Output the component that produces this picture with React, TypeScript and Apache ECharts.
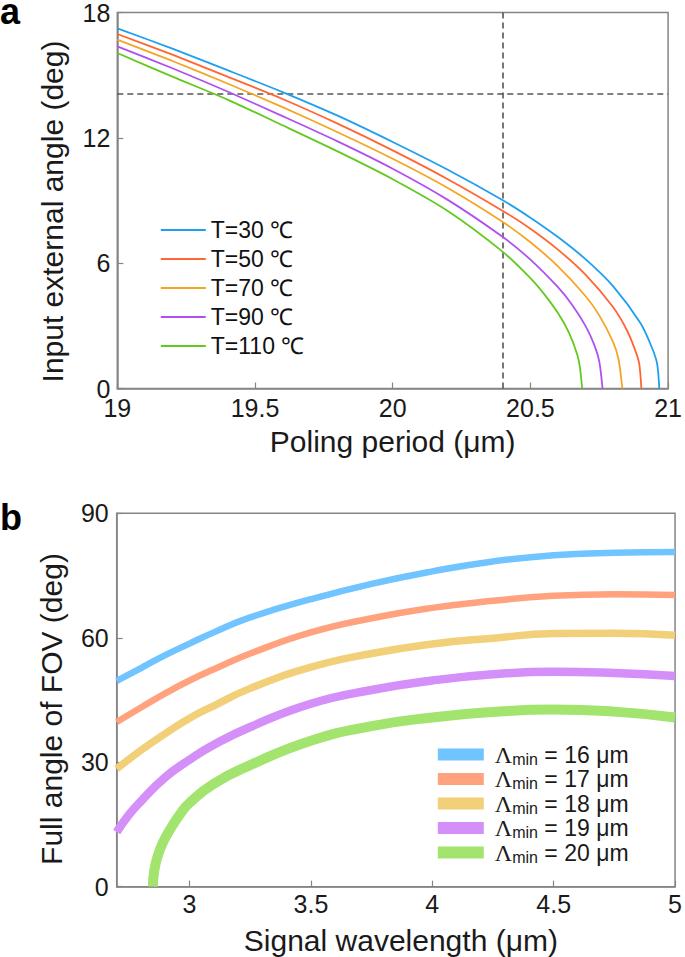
import React, { useEffect, useRef } from 'react';
import * as echarts from 'echarts';

const FONT = '"Liberation Sans", Arial, Helvetica, sans-serif';

// ---------- Panel a: input external angle vs poling period ----------
const T_NAMES = ['T=30 ℃', 'T=50 ℃', 'T=70 ℃', 'T=90 ℃', 'T=110 ℃'];
const T_COLORS = ['#1E9FF0', '#FF6633', '#F5A524', '#B050F2', '#63C91E'];

const PERIOD_30 = [19.0, 19.2, 19.4, 19.6, 19.8, 20.0, 20.2, 20.4, 20.5, 20.6, 20.7, 20.8, 20.9, 20.94, 20.96, 20.968];
const ANGLE_30 = [17.24, 16.27, 15.24, 14.19, 13.06, 11.8, 10.47, 9.01, 8.18, 7.25, 6.19, 4.9, 3.12, 2.0, 1.2, 0];

const PERIOD_50 = [19.0, 19.2, 19.4, 19.6, 19.8, 20.0, 20.2, 20.4, 20.5, 20.6, 20.7, 20.8, 20.85, 20.88, 20.895, 20.903];
const ANGLE_50 = [16.97, 15.98, 14.93, 13.86, 12.68, 11.4, 10.02, 8.5, 7.65, 6.65, 5.45, 3.9, 2.8, 1.85, 1.2, 0];

const PERIOD_70 = [19.0, 19.2, 19.4, 19.6, 19.8, 20.0, 20.2, 20.4, 20.5, 20.6, 20.7, 20.75, 20.8, 20.82, 20.834];
const ANGLE_70 = [16.7, 15.68, 14.6, 13.47, 12.27, 11.0, 9.6, 7.97, 7.0, 5.85, 4.43, 3.5, 2.23, 1.4, 0];

const PERIOD_90 = [19.0, 19.2, 19.4, 19.6, 19.8, 20.0, 20.2, 20.4, 20.5, 20.6, 20.65, 20.7, 20.73, 20.75, 20.762];
const ANGLE_90 = [16.38, 15.33, 14.22, 13.04, 11.83, 10.52, 9.03, 7.25, 6.17, 4.85, 4.03, 3.0, 2.15, 1.3, 0];

const PERIOD_110 = [19.0, 19.2, 19.4, 19.6, 19.8, 20.0, 20.2, 20.4, 20.5, 20.55, 20.6, 20.64, 20.67, 20.68, 20.688];
const ANGLE_110 = [16.06, 14.93, 13.83, 12.6, 11.35, 10.02, 8.5, 6.54, 5.28, 4.52, 3.61, 2.67, 1.63, 1.0, 0];

const PERIODS = [PERIOD_30, PERIOD_50, PERIOD_70, PERIOD_90, PERIOD_110];
const ANGLES = [ANGLE_30, ANGLE_50, ANGLE_70, ANGLE_90, ANGLE_110];

const REF_ANGLE = 14.1;
const REF_PERIOD = 20.4;

const A_X_TICKS = [19, 19.5, 20, 20.5, 21];
const A_Y_TICKS = [0, 6, 12, 18];

// ---------- Panel b: full angle of FOV vs signal wavelength ----------
const L_NAMES = ['Λmin = 16 μm', 'Λmin = 17 μm', 'Λmin = 18 μm', 'Λmin = 19 μm', 'Λmin = 20 μm'];
const L_COLORS = ['#70C4FF', '#FFA27D', '#F2D07A', '#D48FF9', '#A3E46F'];
const L_WIDTHS = [6.5, 6.5, 7.5, 8.5, 10];

const WL_16 = [2.7, 2.8, 2.9, 3.0, 3.1, 3.25, 3.5, 3.75, 4.0, 4.25, 4.5, 4.75, 5.0];
const FOV_16 = [49.6, 52.7, 55.8, 58.6, 61.3, 64.9, 69.3, 73.0, 76.0, 78.4, 79.9, 80.5, 80.7];

const WL_17 = [2.7, 2.8, 2.9, 3.0, 3.1, 3.25, 3.5, 3.75, 4.0, 4.25, 4.5, 4.75, 5.0];
const FOV_17 = [39.7, 43.2, 46.6, 49.7, 52.4, 56.2, 61.3, 64.7, 67.2, 68.9, 70.1, 70.5, 70.3];

const WL_18 = [2.7, 2.8, 2.9, 3.0, 3.1, 3.25, 3.5, 3.75, 4.0, 4.25, 4.5, 4.75, 5.0];
const FOV_18 = [28.4, 32.9, 36.9, 40.6, 43.6, 47.8, 52.9, 56.2, 58.5, 59.9, 61.0, 61.1, 60.6];

const WL_19 = [2.7, 2.75, 2.8, 2.9, 3.0, 3.1, 3.25, 3.5, 3.75, 4.0, 4.25, 4.5, 4.75, 5.0];
const FOV_19 = [13.2, 17.3, 20.6, 26.4, 30.6, 34.2, 38.5, 44.1, 47.4, 49.7, 51.2, 51.8, 51.5, 50.8];

const WL_20 = [2.849, 2.855, 2.87, 2.89, 2.92, 2.96, 3.0, 3.1, 3.25, 3.5, 3.75, 4.0, 4.25, 4.5, 4.75, 5.0];
const FOV_20 = [0, 4.0, 7.6, 10.6, 13.8, 17.4, 20.2, 24.8, 29.3, 35.2, 38.7, 40.8, 42.1, 42.7, 42.2, 40.8];

const WLS = [WL_16, WL_17, WL_18, WL_19, WL_20];
const FOVS = [FOV_16, FOV_17, FOV_18, FOV_19, FOV_20];

const B_X_TICKS = [3, 3.5, 4, 4.5, 5];

const zip = (xs: number[], ys: number[]) => xs.map((x, i) => [x, ys[i]]);

const AXIS_COLOR = '#858585';
const LABEL_COLOR = '#1a1a1a';

function axisBase(extra: any) {
  return {
    axisLine: { show: true, onZero: false, lineStyle: { color: AXIS_COLOR, width: 1.5 } },
    axisTick: { show: true, inside: true, length: 6, lineStyle: { color: AXIS_COLOR, width: 1.2 } },
    splitLine: { show: false },
    nameLocation: 'middle',
    ...extra,
    nameTextStyle: { fontFamily: FONT, fontSize: 30, color: LABEL_COLOR, ...(extra.nameTextStyle || {}) },
    axisLabel: { fontFamily: FONT, fontSize: 25, lineHeight: 18, color: LABEL_COLOR, ...(extra.axisLabel || {}) },
  };
}

function buildOption(): any {
  const seriesA = PERIODS.map((p, i) => ({
    name: T_NAMES[i],
    type: 'line',
    xAxisIndex: 0,
    yAxisIndex: 0,
    data: zip(p, ANGLES[i]),
    showSymbol: false,
    symbol: 'none',
    smooth: 0.25,
    color: T_COLORS[i],
    lineStyle: { width: 1.8, color: T_COLORS[i] },
    z: 3,
    ...(i === 0
      ? {
          markLine: {
            silent: true,
            symbol: ['none', 'none'],
            label: { show: false },
            lineStyle: { type: [6, 4], color: '#555', width: 1.6 },
            data: [{ yAxis: REF_ANGLE }, { xAxis: REF_PERIOD }],
            z: 2,
          },
        }
      : {}),
  }));

  const seriesB = WLS.map((w, i) => ({
    name: L_NAMES[i],
    type: 'line',
    xAxisIndex: 1,
    yAxisIndex: 1,
    data: zip(w, FOVS[i]),
    showSymbol: false,
    symbol: 'none',
    smooth: 0.5,
    color: L_COLORS[i],
    lineStyle: { width: L_WIDTHS[i], color: L_COLORS[i], cap: 'butt' },
    z: 3,
  }));

  return {
    animation: false,
    backgroundColor: '#ffffff',
    textStyle: { fontFamily: FONT },
    grid: [
      { left: 117.3, top: 11.7, width: 559.2, height: 376.8, show: true, borderColor: AXIS_COLOR, borderWidth: 1.5, backgroundColor: 'transparent' },
      { left: 116.7, top: 513.3, width: 560, height: 373.4, show: true, borderColor: AXIS_COLOR, borderWidth: 1.5, backgroundColor: 'transparent' },
    ],
    xAxis: [
      axisBase({
        gridIndex: 0,
        type: 'value',
        min: A_X_TICKS[0],
        max: A_X_TICKS[A_X_TICKS.length - 1],
        interval: 0.5,
        name: 'Poling period (μm)',
        nameGap: 38,
        axisLabel: { margin: 10, showMaxLabel: true, showMinLabel: true, hideOverlap: false },
      }),
      axisBase({
        gridIndex: 1,
        type: 'value',
        min: 2.7,
        max: 5,
        name: 'Signal wavelength (μm)',
        nameGap: 39,
        nameTextStyle: { padding: [0, 0, 0, 10] },
        axisTick: { show: true, inside: true, length: 6, lineStyle: { color: AXIS_COLOR, width: 1.2 }, customValues: B_X_TICKS },
        axisLabel: { margin: 8, customValues: B_X_TICKS, showMaxLabel: true },
      }),
    ],
    yAxis: [
      axisBase({
        gridIndex: 0,
        type: 'value',
        min: A_Y_TICKS[0],
        max: A_Y_TICKS[A_Y_TICKS.length - 1],
        interval: 6,
        name: 'Input external angle (deg)',
        nameGap: 50,
        nameTextStyle: { padding: [0, 22, 0, 0] },
        axisLabel: { margin: 7, showMaxLabel: true, showMinLabel: true },
      }),
      axisBase({
        gridIndex: 1,
        type: 'value',
        min: 0,
        max: 90,
        interval: 30,
        name: 'Full angle of FOV (deg)',
        nameGap: 50,
        nameTextStyle: { padding: [0, 18, 0, 0] },
        axisLabel: { margin: 8, showMaxLabel: true, showMinLabel: true },
      }),
    ],
    legend: [
      {
        data: T_NAMES,
        orient: 'vertical',
        left: 160.8,
        top: 218.5,
        padding: 0,
        icon: 'rect',
        itemWidth: 45,
        itemHeight: 2,
        itemGap: 6,
        itemStyle: { borderWidth: 0 },
        textStyle: { fontFamily: FONT, fontSize: 23, lineHeight: 23, color: '#111' },
        selectedMode: false,
      },
      {
        data: L_NAMES,
        orient: 'vertical',
        left: 437.8,
        top: 742.5,
        padding: 0,
        icon: 'rect',
        itemWidth: 46,
        itemHeight: 12,
        itemGap: 0,
        itemStyle: { borderWidth: 0 },
        selectedMode: false,
        formatter: (name: string) => {
          const v = name.split('= ')[1];
          return `{l|Λ}{s|min}{t| = ${v}}`;
        },
        textStyle: {
          rich: {
            l: { fontFamily: '"Liberation Serif", "Times New Roman", serif', fontSize: 24, lineHeight: 25, color: '#1a1a1a', padding: [0, 0, 0, 6] },
            s: { fontFamily: FONT, fontSize: 16, lineHeight: 15, color: '#1a1a1a', verticalAlign: 'bottom' },
            t: { fontFamily: FONT, fontSize: 23, lineHeight: 25, color: '#1a1a1a' },
          },
        },
      },
    ],
    graphic: [
      { type: 'text', x: 0, y: 0, style: { text: 'a', fontFamily: FONT, fontWeight: 'bold', fontSize: 36, lineHeight: 22, fill: '#000', verticalAlign: 'top' }, z: 10 },
      { type: 'text', x: 0, y: 506.5, style: { text: 'b', fontFamily: FONT, fontWeight: 'bold', fontSize: 36, lineHeight: 22, fill: '#000', verticalAlign: 'top' }, z: 10 },
    ],
    series: [...seriesA, ...seriesB],
  };
}

export default function App() {
  const ref = useRef<HTMLDivElement>(null);
  useEffect(() => {
    document.body.style.margin = '0';
    if (!ref.current) return;
    const chart = echarts.init(ref.current, null, { renderer: 'svg' });
    chart.setOption(buildOption());
    return () => chart.dispose();
  }, []);
  return <div ref={ref} style={{ width: 685, height: 957 }} />;
}
